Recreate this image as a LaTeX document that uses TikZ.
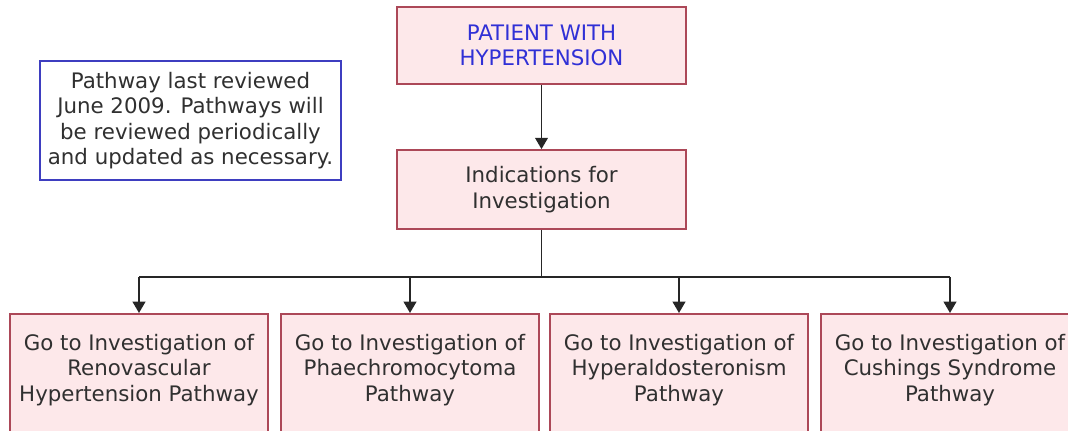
\documentclass[tikz,border=0pt]{standalone}
\usepackage{fontspec}
\setmainfont{DejaVu Sans}
\usepackage{xcolor}
\usepackage{tikz}
\usetikzlibrary{arrows.meta,calc}

\definecolor{boxred}{RGB}{172,72,88}
\definecolor{boxpink}{RGB}{253,232,234}
\definecolor{titleblue}{RGB}{48,48,214}
\definecolor{noteblue}{RGB}{62,62,192}
\definecolor{txtgray}{RGB}{48,48,48}

\tikzset{
	pinkbox/.style={draw=boxred,fill=boxpink,line width=1.3pt,inner sep=0pt,
		minimum width=216.75pt,minimum height=58pt},
	pathbox/.style={pinkbox,minimum width=193.5pt,minimum height=104pt,anchor=north},
	pathtext/.style={align=center,text=txtgray,font=\fontsize{16}{19}\selectfont},
	notebox/.style={draw=noteblue,fill=white,line width=1.1pt,inner sep=0pt,
		minimum width=225.75pt,minimum height=89.25pt,align=center,text=txtgray,
		font=\fontsize{16}{19}\selectfont},
	wire/.style={draw=black!85,line width=1.4pt},
	link/.style={wire,-{Triangle[width=9.5pt,length=8.5pt]}}
}

\begin{document}
\begin{tikzpicture}[x=0.75pt,y=-0.75pt]
				\useasboundingbox (0,0) rectangle (1068,430);
				\clip (0,0) rectangle (1068,430);
				\node[pinkbox,pathtext,text=titleblue] (patient) at (541.5,45.5) {PATIENT WITH\\HYPERTENSION};
				\node[pinkbox,pathtext,minimum height=59.25pt] (indic) at (541.5,189.5) {Indications for\\Investigation};
				\node[notebox] (note) at (190.5,120.5) {Pathway last reviewed\\June 2009. Pathways will\\be reviewed periodically\\and updated as necessary.};
				\node[pathbox] (renalbox) at (139,313) {};
				\node[pathbox] (phaeobox) at (410,313) {};
				\node[pathbox] (aldobox) at (679,313) {};
				\node[pathbox] (cushbox) at (950,313) {};
				\node[pathtext] (renal) at (139,370) {Go to Investigation of\\Renovascular\\Hypertension Pathway};
				\node[pathtext] (phaeo) at (410,370) {Go to Investigation of\\Phaechromocytoma\\Pathway};
				\node[pathtext] (aldo) at (679,370) {Go to Investigation of\\Hyperaldosteronism\\Pathway};
				\node[pathtext] (cush) at (950,370) {Go to Investigation of\\Cushings Syndrome\\Pathway};
				\coordinate (bus) at (541.5,277);
				\draw[link] (patient.south) -- (indic.north);
				\draw[wire] (indic.south) -- (bus);
				\draw[wire] (renalbox.north |- bus) -- (cushbox.north |- bus);
				\foreach \b in {renalbox,phaeobox,aldobox,cushbox}
					\draw[link] (\b.north |- bus) -- (\b.north);
			\end{tikzpicture}
\end{document}
